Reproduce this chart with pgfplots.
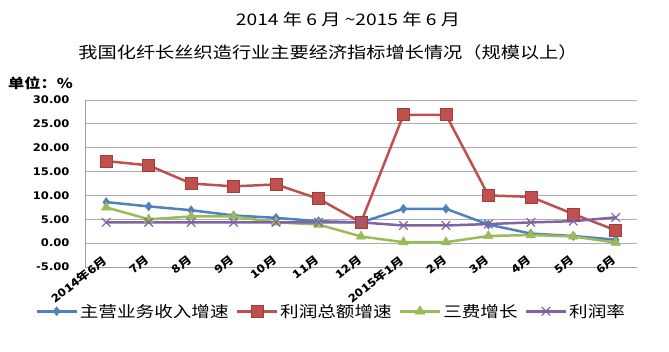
\documentclass[border=0pt]{standalone}
\usepackage{pgfplots}
\pgfplotsset{compat=1.18}
\usepackage{fontspec}
\setmainfont[FakeStretch=1.2]{Noto Sans CJK SC}
\newfontfamily\numfont[FakeStretch=1.1]{DejaVu Sans}
\definecolor{sblue}{HTML}{4F81BD}
\definecolor{sred}{HTML}{C0504D}
\definecolor{sredd}{HTML}{A03C3A}
\definecolor{sgreen}{HTML}{9BBB59}
\definecolor{spurple}{HTML}{8064A2}
\begin{document}
\begin{tikzpicture}
\useasboundingbox (0,0) rectangle (669pt,351pt);
\node[font=\fontsize{16}{18}\selectfont] at (348pt,332pt) {2014 年 6 月 \textasciitilde2015 年 6 月};
\node[font=\fontsize{16}{18}\selectfont] at (328pt,299pt) {我国化纤长丝织造行业主要经济指标增长情况（规模以上）};
\node[anchor=west, font=\bfseries\fontsize{13.5}{15}\selectfont, inner sep=0pt] at (8pt,268pt) {单位：\%};
\begin{axis}[
  at={(85pt,84pt)}, anchor=south west,
  scale only axis, width=552pt, height=167pt,
  xmin=-0.5, xmax=12.5, ymin=-5, ymax=30,
  ytick={-5,0,5,10,15,20,25,30},
  xtick={0,1,2,3,4,5,6,7,8,9,10,11,12},
  xticklabels={2014年6月,7月,8月,9月,10月,11月,12月,2015年1月,2月,3月,4月,5月,6月},
  axis x line*=bottom, axis y line*=left,
  axis line style={draw=gray!75, line width=0.8pt},
  ymajorgrids, grid style={draw=gray!65, line width=0.8pt},
  major tick style={draw=none},
  yticklabel style={font=\numfont\bfseries\fontsize{10.5}{11}\selectfont, xshift=-12pt, /pgf/number format/.cd, fixed, fixed zerofill, precision=2, assume math mode=true},
  xticklabel style={rotate=38, anchor=east, font=\bfseries\fontsize{11}{12}\selectfont, inner sep=1pt},
  xticklabel shift=-9pt,
  legend style={at={(0.446,-0.265)}, anchor=center, legend columns=4, draw=none, fill=none,
    font=\fontsize{15.5}{17}\selectfont, inner sep=0pt,
    /tikz/every even column/.append style={column sep=5pt}},
  legend cell align=left,
  legend image code/.code={\draw[mark repeat=2, mark phase=2, #1] plot coordinates {(0pt,0pt) (20pt,0pt) (40pt,0pt)};},
  every axis plot/.append style={line width=2.5pt},
]
\addplot[color=sblue, mark=diamond*, mark size=4.5pt, mark options={fill=sblue, line width=0.5pt}]
 coordinates {(0,8.6)(1,7.7)(2,6.9)(3,5.8)(4,5.3)(5,4.6)(6,4.35)(7,7.2)(8,7.2)(9,3.9)(10,2.0)(11,1.5)(12,0.7)};
\addlegendentry{主营业务收入增速}
\addplot[color=sred, mark=square*, mark size=6pt, mark options={fill=sred, draw=sredd, line width=0.6pt}]
 coordinates {(0,17.2)(1,16.3)(2,12.5)(3,11.9)(4,12.3)(5,9.3)(6,4.35)(7,26.9)(8,26.9)(9,10.0)(10,9.7)(11,6.1)(12,2.7)};
\addlegendentry{利润总额增速}
\addplot[color=sgreen, mark=triangle*, mark size=5.5pt, mark options={fill=sgreen, line width=0.5pt}]
 coordinates {(0,7.5)(1,5.0)(2,5.6)(3,5.6)(4,4.35)(5,3.9)(6,1.4)(7,0.2)(8,0.2)(9,1.5)(10,1.7)(11,1.4)(12,0.1)};
\addlegendentry{三费增长}
\addplot[color=spurple, mark=x, mark size=6pt, mark options={line width=1.2pt}]
 coordinates {(0,4.35)(1,4.35)(2,4.35)(3,4.35)(4,4.35)(5,4.35)(6,4.35)(7,3.7)(8,3.7)(9,4.0)(10,4.35)(11,4.6)(12,5.4)};
\addlegendentry{利润率}
\end{axis}
\end{tikzpicture}
\end{document}
